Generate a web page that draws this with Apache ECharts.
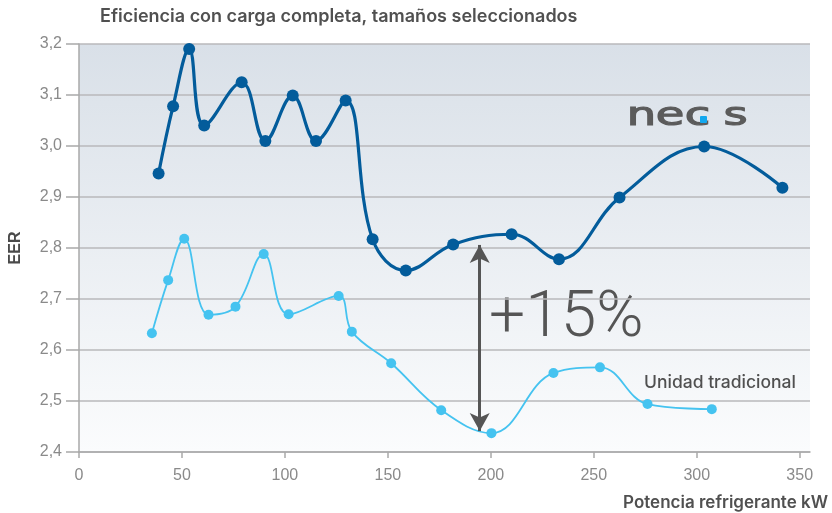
<!DOCTYPE html>
<html>
<head>
<meta charset="utf-8">
<script src="https://cdn.jsdelivr.net/npm/echarts@6/dist/echarts.min.js"></script>
<style>html,body{margin:0;padding:0;background:#fff}#c{width:832px;height:513px}</style>
</head>
<body>
<div id="c"></div>
<script>
// ---- data ----
const necsX = [38.65, 45.7, 53.5, 60.8, 79.0, 90.5, 103.8, 115.1, 129.5, 142.6, 158.7, 181.7, 210.1, 233.1, 262.5, 303.6, 341.6];
const necsY = [2.946, 3.078, 3.190, 3.040, 3.125, 3.010, 3.099, 3.010, 3.089, 2.817, 2.756, 2.807, 2.827, 2.778, 2.899, 2.999, 2.918];
const tradX = [35.4, 43.3, 51.1, 62.9, 76.0, 89.7, 101.8, 126.1, 132.5, 151.6, 175.9, 200.3, 230.4, 253.0, 276.1, 307.3];
const tradY = [2.633, 2.737, 2.818, 2.669, 2.685, 2.788, 2.670, 2.706, 2.636, 2.574, 2.482, 2.437, 2.555, 2.566, 2.494, 2.484];
const xMin = 0, xMax = 355, xStep = 50;
const yMin = 2.4, yMax = 3.2, yStep = 0.1;
const gapArrowX = 194.6;
const gapArrowY = [2.806, 2.441];
const titleText = 'Eficiencia con carga completa, tamaños seleccionados';
const xName = 'Potencia refrigerante kW';
const yName = 'EER';
const gapLabel = '+15%';
const tradLabel = 'Unidad tradicional';
const logoLetters = ['n', 'e', 'c', 's'];

const zip = (a, b) => a.map((v, i) => [v, b[i]]);
const logoCenters = [641.5, 670, 697.5, 735.5];

const chart = echarts.init(document.getElementById('c'));
chart.setOption({
  animation: false,
  grid: {
    left: 78, right: 22, top: 44, bottom: 61,
    show: true, borderWidth: 0,
    backgroundColor: new echarts.graphic.LinearGradient(0, 0, 0, 1, [
      {offset: 0, color: '#d9e0e8'}, {offset: 1, color: '#fbfcfd'}
    ])
  },
  xAxis: {
    type: 'value', min: xMin, max: xMax, interval: xStep,
    axisLine: {show: true, lineStyle: {color: '#a9a9a9', width: 1.5}},
    axisTick: {show: true, length: 6, lineStyle: {color: '#a9a9a9', width: 1.5}},
    axisLabel: {color: '#8a8a8a', fontSize: 16, margin: 16, fontFamily: 'Liberation Sans'},
    splitLine: {show: false}
  },
  yAxis: {
    type: 'value', min: yMin, max: yMax, interval: yStep,
    name: yName, nameLocation: 'middle', nameGap: 55, nameRotate: 90,
    nameTextStyle: {color: '#4a4a4a', fontSize: 16, fontWeight: 'bold', fontFamily: 'Liberation Sans'},
    axisLine: {show: true, lineStyle: {color: '#a9a9a9', width: 1.5}},
    axisTick: {show: true, length: 13, lineStyle: {color: '#a9a9a9', width: 1.5}},
    axisLabel: {color: '#8a8a8a', fontSize: 16, margin: 17, fontFamily: 'Liberation Sans',
      formatter: v => v.toFixed(1).replace('.', ',')},
    splitLine: {show: true, lineStyle: {color: '#b8b9bb', width: 1.5}}
  },
  series: [
    {
      type: 'line', data: zip(tradX, tradY), smooth: 0.4,
      symbol: 'circle', symbolSize: 10,
      itemStyle: {color: '#45c3f0'},
      lineStyle: {color: '#45c3f0', width: 1.8},
      z: 3,
      markLine: {
        silent: true, animation: false,
        symbol: ['arrow', 'arrow'], symbolSize: [15, 18],
        label: {show: false},
        lineStyle: {color: '#555555', width: 3, type: 'solid'},
        data: [[{coord: [gapArrowX, gapArrowY[0]]}, {coord: [gapArrowX, gapArrowY[1]]}]]
      }
    },
    {
      type: 'line', data: zip(necsX, necsY), smooth: 0.4,
      symbol: 'circle', symbolSize: 12,
      itemStyle: {color: '#035c9b'},
      lineStyle: {color: '#035c9b', width: 3.2},
      z: 4
    }
  ],
  graphic: [
    {type: 'text', left: 100, top: 8, style: {text: titleText, fill: '#505050', font: '600 18px Inter'}},
    {type: 'text', right: 4, top: 494, style: {text: xName, fill: '#505050', font: '600 17px Inter'}},
    {type: 'text', x: 489, y: 320, style: {text: gapLabel, fill: '#555', font: '300 64px Roboto', verticalAlign: 'middle'}},
    {type: 'text', x: 644, y: 383, style: {text: tradLabel, fill: '#505050', font: '500 17.5px Inter', verticalAlign: 'middle'}}
  ].concat(logoLetters.map((ch, i) => ({
    type: 'text', x: logoCenters[i], y: 117, scaleX: 1.45,
    style: {text: ch, fill: '#5b5b5b', stroke: '#5b5b5b', lineWidth: 1.2, font: '32px "DejaVu Sans"', align: 'center', verticalAlign: 'middle'}
  }))).concat([
    {type: 'rect', shape: {x: 700, y: 116, width: 7, height: 7, r: 1}, style: {fill: '#14a8ee'}, z: 10}
  ])
});
</script>
</body>
</html>
